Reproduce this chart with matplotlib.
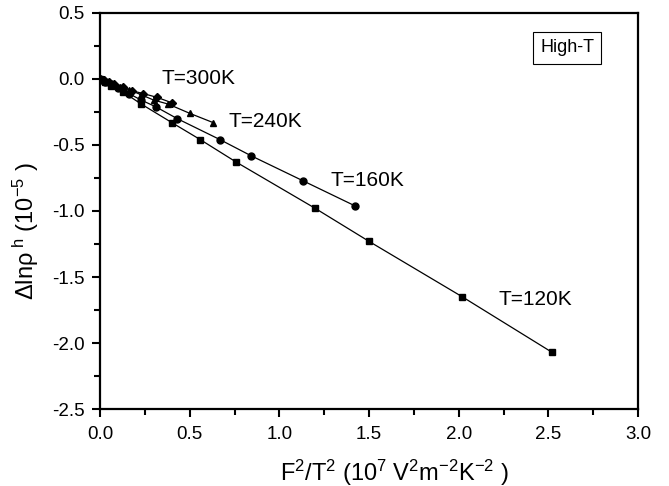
import matplotlib

matplotlib.use("Agg")
import matplotlib.pyplot as plt
from matplotlib.ticker import MultipleLocator

plt.rcParams["font.family"] = ["Liberation Sans", "DejaVu Sans"]
plt.rcParams["mathtext.fontset"] = "custom"
plt.rcParams["mathtext.rm"] = "Liberation Sans"
plt.rcParams["mathtext.it"] = "Liberation Sans"
plt.rcParams["mathtext.default"] = "regular"

# F^2/T^2 (1e7 V^2 m^-2 K^-2) vs delta ln rho^h (1e-5)
x_300 = [0.0, 0.02, 0.05, 0.08, 0.13, 0.18, 0.24, 0.32, 0.40]
y_300 = [0.0, -0.01, -0.02, -0.04, -0.06, -0.09, -0.11, -0.14, -0.18]

x_240 = [0.0, 0.02, 0.04, 0.07, 0.11, 0.16, 0.23, 0.30, 0.38, 0.50, 0.63]
y_240 = [0.0, -0.01, -0.02, -0.04, -0.06, -0.08, -0.12, -0.16, -0.19, -0.26, -0.33]

x_160 = [0.0, 0.01, 0.03, 0.06, 0.10, 0.16, 0.23, 0.31, 0.43, 0.67, 0.84, 1.13, 1.42]
y_160 = [0.0, -0.01, -0.02, -0.04, -0.07, -0.11, -0.16, -0.21, -0.30, -0.46, -0.58, -0.77, -0.96]

x_120 = [0.0, 0.01, 0.03, 0.06, 0.13, 0.23, 0.40, 0.56, 0.76, 1.20, 1.50, 2.02, 2.52]
y_120 = [0.0, -0.01, -0.02, -0.05, -0.10, -0.19, -0.33, -0.46, -0.63, -0.98, -1.23, -1.65, -2.07]

labels = ["T=300K", "T=240K", "T=160K", "T=120K"]
label_pos = [(0.55, 0.0), (0.92, -0.32), (1.49, -0.77), (2.43, -1.67)]

fig = plt.figure(figsize=(6.69, 4.86), dpi=100)
ax = fig.add_axes([0.1495, 0.1584, 0.8042, 0.8149])

ax.plot(x_120, y_120, color="black", lw=0.9, marker="s", ms=5, mec="black", mfc="black")
ax.plot(x_160, y_160, color="black", lw=0.9, marker="o", ms=5, mec="black", mfc="black")
ax.plot(x_240, y_240, color="black", lw=0.9, marker="^", ms=5, mec="black", mfc="black")
ax.plot(x_300, y_300, color="black", lw=0.9, marker="D", ms=4.5, mec="black", mfc="black")

for text, (tx, ty) in zip(labels, label_pos):
    ax.text(tx, ty, text, fontsize=15, ha="center", va="center")

ax.text(0.868, 0.912, "High-T", transform=ax.transAxes, fontsize=13,
        ha="center", va="center",
        bbox=dict(boxstyle="square,pad=0.4", fc="white", ec="black", lw=0.8))

ax.set_xlim(0, 3.0)
ax.set_ylim(-2.5, 0.5)
ax.xaxis.set_major_locator(MultipleLocator(0.5))
ax.xaxis.set_minor_locator(MultipleLocator(0.25))
ax.yaxis.set_major_locator(MultipleLocator(0.5))
ax.yaxis.set_minor_locator(MultipleLocator(0.25))
ax.xaxis.set_major_formatter(plt.FormatStrFormatter("%.1f"))
ax.yaxis.set_major_formatter(plt.FormatStrFormatter("%.1f"))

ax.tick_params(which="both", direction="out", width=1.5, labelsize=13.5, top=False, right=False)
ax.tick_params(which="major", length=6)
ax.tick_params(which="minor", length=4)
ax.tick_params(axis="x", pad=6)
ax.tick_params(axis="y", pad=5)
for sp in ax.spines.values():
    sp.set_linewidth(1.6)

ax.set_xlabel(r"F$^2$/T$^2$ (10$^7$ V$^2$m$^{-2}$K$^{-2}$ )", fontsize=17)
ax.set_ylabel(r"$\Delta$ln$\rho^{\ h}$ (10$^{-5}$ )", fontsize=17)
ax.xaxis.set_label_coords(0.548, -0.122)
ax.yaxis.set_label_coords(-0.11, 0.45)

fig.savefig("out.png", dpi=100)
